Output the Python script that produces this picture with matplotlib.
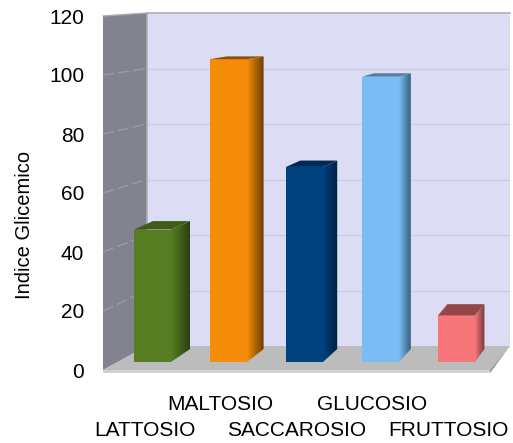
import numpy as np
import matplotlib
matplotlib.use('Agg')
import matplotlib.pyplot as plt
from matplotlib.patches import Polygon
from matplotlib.colors import LinearSegmentedColormap

plt.rcParams['font.family'] = ['Liberation Sans', 'DejaVu Sans']

W, H = 513, 443
# bar data
zuccheri = ['LATTOSIO', 'MALTOSIO', 'SACCAROSIO', 'GLUCOSIO', 'FRUTTOSIO']
indice = [45.5, 104, 67, 98, 16]
colori = ['#567d21', '#f58c0a', '#00417f', '#7abdf4', '#f7767a']
scuri = ['#2c4012', '#6b3d04', '#001f3f', '#34607f', '#74373a']
tetti = ['#3f5c18', '#8a5006', '#002a55', '#4f7fa6', '#94474a']
tick_vals = [0, 20, 40, 60, 80, 100, 120]

# axes frame in pixels, the rest is in data units
left, right, top, bottom = 103, 510, 16, 370
fig = plt.figure(figsize=(W / 100, H / 100), dpi=100)
ax = fig.add_axes([left / W, 1 - bottom / H, (right - left) / W, (bottom - top) / H])
step = 76
ax.set_xlim((left - 152.5) / step, (right - 152.5) / step)
ax.set_ylim(0, 120)
ax.patch.set_alpha(0)
for s in ax.spines.values():
    s.set_visible(False)
ax.set_xticks([])
ax.set_yticks(tick_vals)
ax.tick_params(axis='y', length=0, labelsize=15, pad=13.5)
ax.set_ylabel('Indice Glicemico', fontsize=14.5)
ax.yaxis.set_label_coords(-0.17, 0.41)

x0, x1 = ax.get_xlim()
px = 1 / step       # one pixel in x units
py = 120 / (bottom - top)  # one pixel in y units
wall_x = x0 + 44 * px
wall_low = 24 * py
wall_high = 121


def wall_y(v):
    # value on the back wall
    return wall_low + v * (wall_high - wall_low) / 120


# walls and floor
ax.add_patch(Polygon([(wall_x, wall_low), (x1, wall_low), (x1, wall_high), (wall_x, wall_high)],
                     fc='#dcdcf4', ec='none', zorder=1, clip_on=False))
ax.add_patch(Polygon([(x0, 0), (wall_x, wall_low), (wall_x, wall_high), (x0, 120)],
                     fc='#83838f', ec='none', zorder=1, clip_on=False))
ax.add_patch(Polygon([(x0, 0), (wall_x, wall_low), (x1, wall_low), (x1 - 20 * px, 0)],
                     fc='#bcbcbc', ec='none', zorder=2, clip_on=False))
ax.add_patch(Polygon([(x0, -3 * py), (x0, 0), (x1 - 20 * px, 0), (x1 - 20 * px, -3 * py)],
                     fc='#d2d2d2', ec='none', zorder=2, clip_on=False))
ax.add_patch(Polygon([(x1 - 20 * px, -3 * py), (x1 - 20 * px, 0), (x1, wall_low)],
                     fc='#8c8c8c', ec='none', zorder=2, clip_on=False))
ax.plot([wall_x, wall_x], [wall_low, wall_high], color='#b0b0b0', lw=1.2, zorder=3, clip_on=False)
ax.plot([wall_x, x1], [wall_high, wall_high], color='#b0b0b0', lw=1.2, zorder=3, clip_on=False)
for v in tick_vals[1:-1]:
    ax.plot([wall_x, x1], [wall_y(v)] * 2, color='#cdcde0', lw=1, zorder=1.2)
    ax.plot([x0, wall_x], [v, wall_y(v)], color='#9a9aa6', lw=1, ls=(0, (8, 3)), zorder=1.2)
ax.plot([x0, wall_x], [120, wall_y(120)], color='#a8a8b0', lw=1, zorder=1.2, clip_on=False)

# bars
width = 37 * px
y_low = 8 * py
for i, (v, c, d, t) in enumerate(zip(indice, colori, scuri, tetti)):
    y_top = y_low + v * 0.987
    xl, xr = i - width / 2, i + width / 2
    dx = (19 - 2.4 * i) * px
    y_px = bottom - y_top / py
    dy = (2.5 + 0.033 * (y_px - 50)) * py
    dy_low = 13 * py
    # side with a gradient
    cmap = LinearSegmentedColormap.from_list('s', [c, d])
    side = Polygon([(xr, y_low), (xr + dx, y_low + dy_low), (xr + dx, y_top + dy), (xr, y_top)],
                   fc='none', ec='none', zorder=5 + i)
    ax.add_patch(side)
    im = ax.imshow(np.linspace(0, 1, 64)[None, :], cmap=cmap, aspect='auto', zorder=5 + i,
                   extent=(xr, xr + dx, y_low, y_top + dy))
    im.set_clip_path(side)
    # front and top
    ax.add_patch(Polygon([(xl, y_low), (xr, y_low), (xr, y_top), (xl, y_top)],
                         fc=c, ec='none', zorder=5.2 + i))
    ax.add_patch(Polygon([(xl, y_top), (xr, y_top), (xr + dx, y_top + dy), (xl + dx, y_top + dy)],
                         fc=t, ec='none', zorder=5.3 + i))
ax.set_xlim(x0, x1)
ax.set_ylim(0, 120)

# category labels, on two rows
for i, nome in enumerate(zuccheri):
    ax.annotate(nome, (i, 0), xycoords=('data', 'axes fraction'),
                xytext=(-8, -34 if i % 2 else -61), textcoords='offset pixels',
                ha='center', va='center', fontsize=15, clip_on=False)

fig.savefig('out.png', dpi=100)
